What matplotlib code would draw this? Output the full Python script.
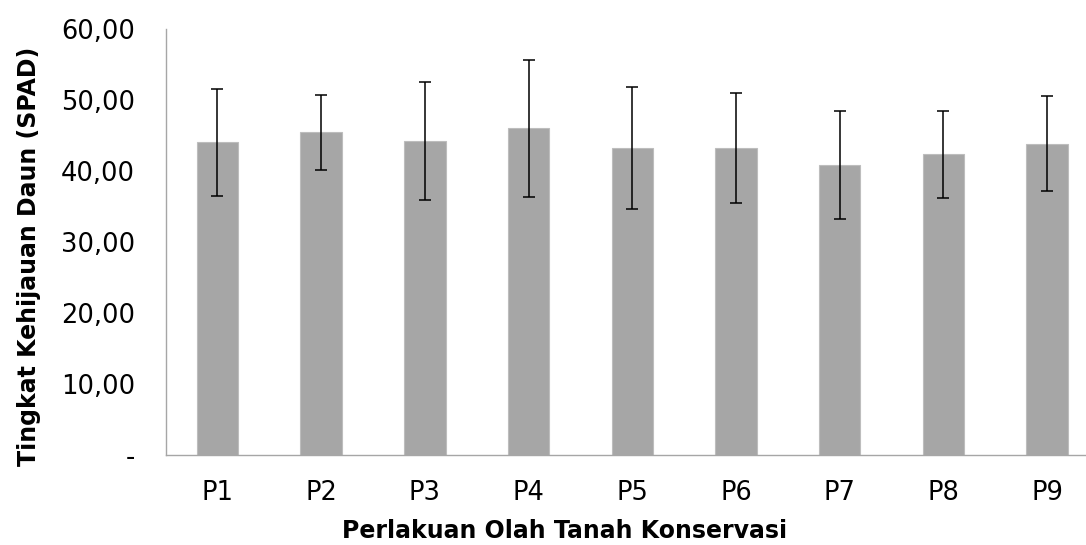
import matplotlib.pyplot as plt
import numpy as np

perlakuan = ['P1', 'P2', 'P3', 'P4', 'P5', 'P6', 'P7', 'P8', 'P9']
spad_mean = [44.04, 45.45, 44.23, 46.00, 43.30, 43.30, 40.80, 42.35, 43.85]
spad_sd = [7.55, 5.30, 8.30, 9.60, 8.60, 7.75, 7.60, 6.10, 6.65]
yticks = [0, 10, 20, 30, 40, 50, 60]
ytick_labels = ['-', '10,00', '20,00', '30,00', '40,00', '50,00', '60,00']

plt.rcParams['font.family'] = ['DejaVu Sans']

fig = plt.figure(figsize=(10.86, 5.45), dpi=100)
# plot area runs past the right edge, as in the cropped original
ax = fig.add_axes([0.1524, 0.1651, 0.8596, 0.7817])

x = np.arange(len(perlakuan))
ax.bar(x, spad_mean, width=0.40, color='#a6a6a6', edgecolor='#bdbdbd', linewidth=0.8,
       yerr=spad_sd, capsize=4.3,
       error_kw=dict(ecolor='black', elinewidth=1.1, capthick=1.1))

ax.set_xlim(-0.5, len(perlakuan) - 0.5)
ax.set_ylim(0, 60)
ax.set_xticks(x)
ax.set_xticklabels(perlakuan)
ax.set_yticks(yticks)
ax.set_yticklabels(ytick_labels)
ax.tick_params(axis='both', length=0, labelsize=18.5, colors='black')
ax.tick_params(axis='y', pad=22)
ax.tick_params(axis='x', pad=18)

for s in ['top', 'right']:
    ax.spines[s].set_visible(False)
for s in ['left', 'bottom']:
    ax.spines[s].set_color('#a6a6a6')
    ax.spines[s].set_linewidth(1.0)

fig.text(565 / 1086, 1 - 531 / 545, 'Perlakuan Olah Tanah Konservasi',
         ha='center', va='center', fontsize=17, fontweight='bold')
fig.text(29 / 1086, 1 - 256 / 545, 'Tingkat Kehijauan Daun (SPAD)',
         ha='center', va='center', rotation=90, fontsize=17, fontweight='bold')

fig.savefig('out.png', dpi=100)
